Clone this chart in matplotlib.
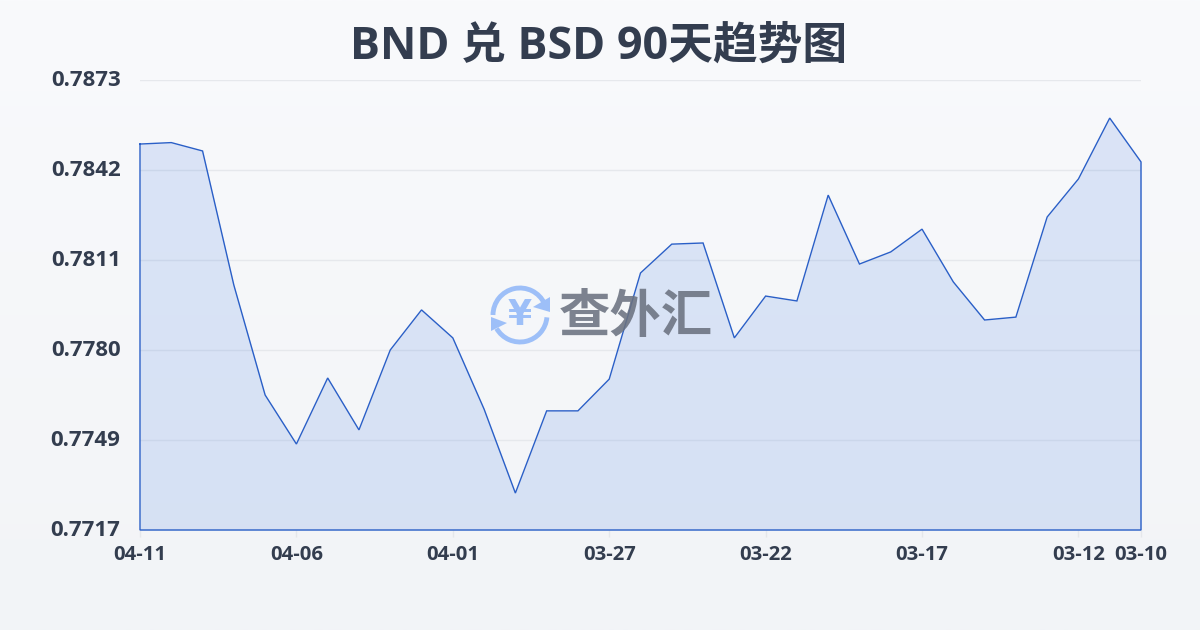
import matplotlib
matplotlib.use("Agg")
import matplotlib.pyplot as plt
from matplotlib.patches import Arc, Polygon
from matplotlib.colors import LinearSegmentedColormap
from matplotlib.transforms import ScaledTranslation
import numpy as np

plt.rcParams['font.family'] = ['Open Sans', 'Noto Sans CJK SC', 'DejaVu Sans']

title = "BND 兑 BSD 90天趋势图"
dates = ["04-11", "04-10", "04-09", "04-08", "04-07", "04-06", "04-05", "04-04", "04-03", "04-02",
         "04-01", "03-31", "03-30", "03-29", "03-28", "03-27", "03-26", "03-25", "03-24", "03-23",
         "03-22", "03-21", "03-20", "03-19", "03-18", "03-17", "03-16", "03-15", "03-14", "03-13",
         "03-12", "03-11", "03-10"]
rates = [0.78508, 0.78513, 0.78484, 0.78019, 0.77638, 0.77468, 0.77697, 0.77517, 0.77794, 0.77933,
         0.77836, 0.77589, 0.77298, 0.77583, 0.77583, 0.77693, 0.78061, 0.78161, 0.78165, 0.77836,
         0.77981, 0.77964, 0.78331, 0.78092, 0.78134, 0.78213, 0.78030, 0.77898, 0.77908, 0.78255,
         0.78387, 0.78598, 0.78446]
y_ticks = [0.7717, 0.7749, 0.7780, 0.7811, 0.7842, 0.7873]
x_tick_idx = [0, 5, 10, 15, 20, 25, 30, 32]

INK = "#333d4f"
LINE = "#2a5fc7"
W, H = 1200, 630

fig = plt.figure(figsize=(12, 6.3), dpi=100)

# page background
bg = fig.add_axes([0, 0, 1, 1], zorder=0)
bg_cmap = LinearSegmentedColormap.from_list("bg", ["#f9fafc", "#f2f4f7"])
bg.imshow(np.linspace(0, 1, 256).reshape(-1, 1), aspect="auto", cmap=bg_cmap, extent=[0, W, H, 0])
bg.set_xlim(0, W)
bg.set_ylim(H, 0)
bg.axis("off")

ax = fig.add_axes([140 / W, 1 - 530 / H, 1001 / W, 450 / H], zorder=1)
ax.patch.set_alpha(0)
x = np.arange(len(rates))
ax.set_xlim(0, len(rates) - 1)
ax.set_ylim(0.7717, 0.7873)

ax.fill_between(x, rates, 0.7717, color="#2a6ae0", alpha=0.14, linewidth=0, zorder=2)
ax.plot(list(x) + [x[-1], 0, 0], rates + [0.7717, 0.7717, rates[0]],
        color=LINE, linewidth=1, zorder=3, clip_on=False, solid_joinstyle="miter")

ax.set_yticks(np.linspace(0.7717, 0.7873, 6))
ax.set_yticklabels([f"{v:.4f}" for v in y_ticks], fontsize=16, fontweight="bold", color=INK)
ax.set_xticks(x_tick_idx)
ax.set_xticklabels([dates[i] for i in x_tick_idx], fontsize=14.6, fontweight="bold", color=INK)
ax.tick_params(axis="y", length=0, pad=14)
ax.tick_params(axis="x", length=5, width=1, color="#e5e7eb", pad=6)
ax.grid(axis="y", color="#e6e8ec", linewidth=1, zorder=1)
ax.set_axisbelow(True)
for s in ax.spines.values():
    s.set_visible(False)
# y labels sit a touch above their gridlines
up = ScaledTranslation(0, 2 / 100, fig.dpi_scale_trans)
for lab in ax.get_yticklabels():
    lab.set_transform(lab.get_transform() + up)

fig.text(599 / W, 1 - 47 / H, title, fontsize=32.2, fontweight="bold", color=INK, ha="center", va="center")

# watermark logo, on top of the chart
wm = fig.add_axes([0, 0, 1, 1], zorder=2)
wm.set_xlim(0, W)
wm.set_ylim(H, 0)
wm.axis("off")
BLUE = "#9dbff8"
cx, cy = 520, 315
wm.add_patch(Arc((cx, cy), 54, 54, theta1=180, theta2=335, color=BLUE, lw=3.5))
wm.add_patch(Arc((cx, cy), 54, 54, theta1=5, theta2=150, color=BLUE, lw=3.5))
wm.add_patch(Polygon([[533, 307], [550, 297], [550, 312]], color=BLUE, lw=0))
wm.add_patch(Polygon([[507, 323], [491, 317], [491, 331]], color=BLUE, lw=0))
wm.text(cx, cy, "¥", fontsize=25, fontweight="bold", color=BLUE, ha="center", va="center",
        family=["DejaVu Sans"])
wm.text(636, 319, "查外汇", fontsize=37, fontweight="bold", color="#6b7280", alpha=0.88,
        ha="center", va="center")

fig.savefig("out.png", dpi=100)
